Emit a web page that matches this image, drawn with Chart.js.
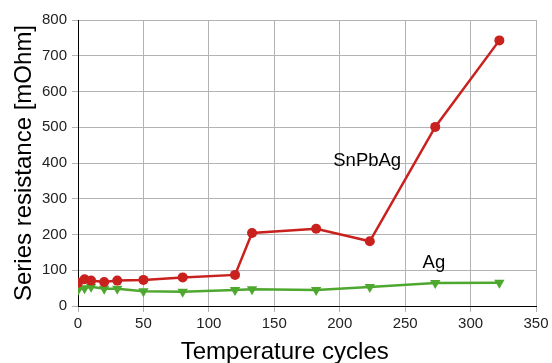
<!DOCTYPE html>
<html>
<head>
<meta charset="utf-8">
<script src="https://cdn.jsdelivr.net/npm/chart.js@4/dist/chart.umd.min.js"></script>
<style>
html,body{margin:0;padding:0;background:#fff;}
#wrap{width:552px;height:363px;position:relative;}
</style>
</head>
<body>
<div id="wrap"><canvas id="c" width="552" height="363"></canvas></div>
<script>
const cyclesSnPbAg = [0, 5, 10, 20, 30, 50, 80, 120, 133, 182, 223, 273, 322];
const resSnPbAg    = [65, 75, 71, 67, 71, 73, 80, 87, 204, 216, 181, 501, 743];
const cyclesAg     = [0, 5, 10, 20, 30, 50, 80, 120, 133, 182, 223, 273, 322];
const resAg        = [45, 50, 54, 48, 48, 41, 40, 45, 47, 45, 53, 64, 65];
const seriesNames  = ["SnPbAg", "Ag"];
const labelPos     = [[221, 405], [272, 121]];
const xTicks       = [0, 50, 100, 150, 200, 250, 300, 350];
const yTicks       = [0, 100, 200, 300, 400, 500, 600, 700, 800];
const xTitle = "Temperature cycles";
const yTitle = "Series resistance [mOhm]";

const RED = "#c9211e", GREEN = "#4ea72e";

const toPts = (xs, ys) => xs.map((x, i) => ({x: x, y: ys[i]}));

const annot = {
  id: "annot",
  afterDatasetsDraw(chart) {
    const {ctx, scales} = chart;
    ctx.save();
    ctx.fillStyle = "#000";
    ctx.font = "18.5px 'Liberation Sans', Arial, sans-serif";
    ctx.textAlign = "center";
    ctx.textBaseline = "middle";
    seriesNames.forEach((n, i) => {
      ctx.fillText(n, scales.x.getPixelForValue(labelPos[i][0]), scales.y.getPixelForValue(labelPos[i][1]));
    });
    // x axis title
    ctx.font = "24px 'Liberation Sans', Arial, sans-serif";
    ctx.textBaseline = "alphabetic";
    ctx.fillText(xTitle, scales.x.getPixelForValue(158), 359);
    ctx.restore();
  }
};

new Chart(document.getElementById("c"), {
  type: "scatter",
  data: {
    datasets: [
      {
        label: seriesNames[0],
        data: toPts(cyclesSnPbAg, resSnPbAg),
        showLine: true,
        borderColor: RED,
        backgroundColor: RED,
        borderWidth: 2.5,
        pointStyle: "circle",
        pointRadius: 5,
        pointBorderWidth: 0,
        pointHoverRadius: 5
      },
      {
        label: seriesNames[1],
        data: toPts(cyclesAg, resAg),
        showLine: true,
        borderColor: GREEN,
        backgroundColor: GREEN,
        borderWidth: 2.5,
        pointStyle: "triangle",
        pointRotation: 180,
        pointRadius: 6,
        pointBorderWidth: 0,
        pointHoverRadius: 6
      }
    ]
  },
  options: {
    responsive: false,
    animation: false,
    events: [],
    layout: {padding: {left: 0, right: 16, top: 20, bottom: 0}},
    plugins: {legend: {display: false}, tooltip: {enabled: false}},
    scales: {
      x: {
        type: "linear",
        min: 0, max: 350,
        afterBuildTicks: s => { s.ticks = xTicks.map(v => ({value: v})); },
        afterFit: s => { s.height = 57; },
        grid: {color: "#b3b3b3", lineWidth: 1, tickLength: 6, tickColor: "#b3b3b3"},
        border: {color: "#000", width: 1},
        ticks: {color: "#222", font: {family: "'Liberation Sans', Arial, sans-serif", size: 15}, padding: 3, maxRotation: 0}
      },
      y: {
        type: "linear",
        min: 0, max: 800,
        afterBuildTicks: s => { s.ticks = yTicks.map(v => ({value: v})); },
        afterFit: s => { s.width = 78; },
        grid: {color: "#b3b3b3", lineWidth: 1, tickLength: 6, tickColor: "#b3b3b3"},
        border: {color: "#000", width: 1},
        ticks: {color: "#222", font: {family: "'Liberation Sans', Arial, sans-serif", size: 15}, padding: 5},
        title: {display: true, text: yTitle, color: "#000", font: {family: "'Liberation Sans', Arial, sans-serif", size: 24}, padding: {top: 10, bottom: 0}}
      }
    }
  },
  plugins: [annot]
});
</script>
</body>
</html>
